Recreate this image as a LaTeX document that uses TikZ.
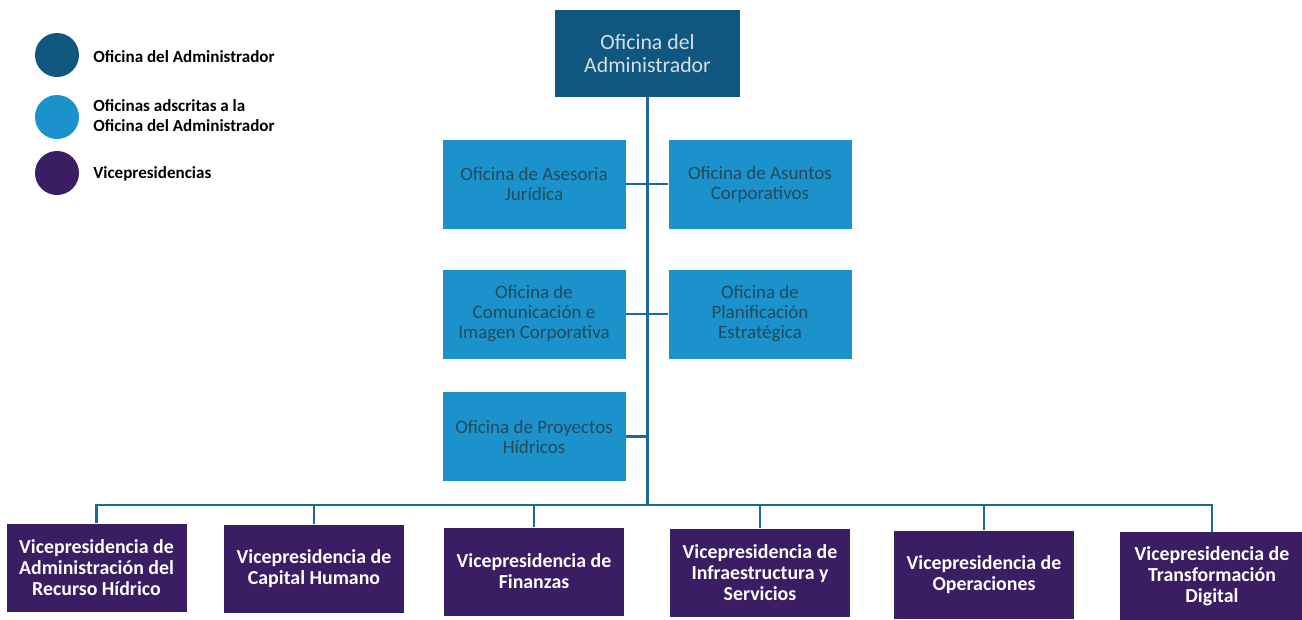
\documentclass[tikz,border=0pt]{standalone}
\usepackage{fontspec}
\setmainfont{Carlito}
\definecolor{admblue}{HTML}{10577F}
\definecolor{offblue}{HTML}{1B92CB}
\definecolor{vpurple}{HTML}{3A1D63}
\definecolor{linkc}{HTML}{1C6A97}
\definecolor{offtext}{HTML}{244A5E}
\definecolor{admtext}{HTML}{D5DDE5}
\begin{document}
\begin{tikzpicture}[x=0.02cm,y=-0.02cm,
  adminbox/.style={rectangle, fill=admblue, text=admtext, align=center,
    minimum width={185*0.02cm}, minimum height={87*0.02cm}, inner sep=0pt,
    font=\fontsize{12.4}{12.9}\selectfont},
  officebox/.style={rectangle, fill=offblue, text=offtext, align=center,
    minimum width={183*0.02cm}, minimum height={89*0.02cm}, inner sep=0pt,
    font=\fontsize{10.8}{11.4}\selectfont},
  vicebox/.style={rectangle, fill=vpurple, text=white, align=center,
    minimum width={180*0.02cm}, minimum height={88*0.02cm}, inner sep=0pt,
    font=\bfseries\fontsize{11.3}{12}\selectfont},
  legdot/.style={circle, minimum size={44*0.02cm}, inner sep=0pt},
  legtext/.style={anchor=west, align=left, inner sep=0pt,
    font=\bfseries\fontsize{9.7}{11.4}\selectfont},
  link/.style={draw=linkc, line width=1.2pt}]
\useasboundingbox (0,0) rectangle (1302,619);

% legend
\node[legdot, fill=admblue] (d1) at (57,55) {};
\node[legdot, fill=offblue] (d2) at (57,117) {};
\node[legdot, fill=vpurple] (d3) at (57,173) {};
\node[legtext] (t1) at (93,57) {Oficina del Administrador};
\node[legtext] (t2) at (93,116) {Oficinas adscritas a la\\Oficina del Administrador};
\node[legtext] (t3) at (93,174) {Vicepresidencias};

% top
\node[adminbox] (adm) at (647.5,53.5) {Oficina del\\Administrador};

% offices
\node[officebox] (o1) at (534,184) {Oficina de Asesoria\\Jurídica};
\node[officebox] (o2) at (760,184) {Oficina de Asuntos\\Corporativos};
\node[officebox] (o3) at (534,314) {Oficina de\\Comunicación e\\Imagen Corporativa};
\node[officebox] (o4) at (760,314) {Oficina de\\Planificación\\Estratégica};
\node[officebox] (o5) at (534,436.5) {Oficina de Proyectos\\Hídricos};

% vicepresidencies
\node[vicebox] (v1) at (96.5,567.5) {Vicepresidencia de\\Administración del\\Recurso Hídrico};
\node[vicebox] (v2) at (314,568.5) {Vicepresidencia de\\Capital Humano};
\node[vicebox] (v3) at (534,571.5) {Vicepresidencia de\\Finanzas};
\node[vicebox] (v4) at (760,572.5) {Vicepresidencia de\\Infraestructura y\\Servicios};
\node[vicebox] (v5) at (984,574.5) {Vicepresidencia de\\Operaciones};
\node[vicebox, minimum width={184*0.02cm}] (v6) at (1212,576) {Vicepresidencia de\\Transformación\\Digital};

% connectors
\coordinate (bus) at (647.5,505);
\draw[link] (adm.south) -- (bus);
\draw[link] (o1.east) -- (o2.west);
\draw[link] (o3.east) -- (o4.west);
\draw[link] (o5.east) -- (o5.east -| adm.south);
\draw[link] (v1.north) |- (bus) -| (v6.north);
\foreach \v in {v2,v3,v4,v5}
  \draw[link] (\v.north) -- (\v.north |- bus);
\end{tikzpicture}
\end{document}
